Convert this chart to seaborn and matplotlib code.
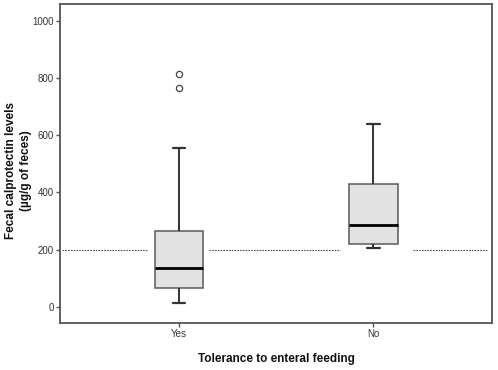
import matplotlib
matplotlib.use("Agg")
import matplotlib.pyplot as plt
import seaborn as sns
import pandas as pd

# ---- data ----
categories = ["Yes", "No"]
whisker_low = [13, 207]
q1 = [65, 220]
median = [135, 285]
q3 = [265, 428]
whisker_high = [556, 638]
outlier_group = ["Yes", "Yes"]
outlier_values = [764, 812]
reference_level = 200
y_ticks = [0, 200, 400, 600, 800, 1000]

sns.set_theme(style="white")
plt.rcParams['font.family'] = ['Liberation Sans', 'DejaVu Sans']

rows = []
for cat, a, b, c, d, e in zip(categories, whisker_low, q1, median, q3, whisker_high):
    for v in (a, b, c, d, e):
        rows.append({"group": cat, "value": v})
df = pd.DataFrame(rows)
out_df = pd.DataFrame({"group": outlier_group, "value": outlier_values})

fig = plt.figure(figsize=(4.98, 3.70), dpi=100)
ax = fig.add_axes([60 / 498, 1 - 323 / 370, 432 / 498, 319 / 370])

# reference line (segments interrupted around the boxes)
for x0, x1 in [(-0.602, -0.161), (0.154, 0.829), (1.206, 1.587)]:
    ax.hlines(reference_level, x0, x1, colors="#555555", linestyles=(0, (1.5, 1.0)),
              linewidth=0.8, zorder=1)

sns.boxplot(data=df, x="group", y="value", order=categories, whis=(0, 100),
            width=0.25, color="#e2e2e2", saturation=1, linecolor="#5a5a5a",
            linewidth=1.1, fliersize=0, capwidths=0.065,
            medianprops=dict(color="black", linewidth=2),
            whiskerprops=dict(color="#333333", linewidth=1.4),
            capprops=dict(color="#333333", linewidth=1.6),
            ax=ax, zorder=2)

sns.stripplot(data=out_df, x="group", y="value", order=categories, jitter=False,
              marker="o", size=4.5, facecolor="white", edgecolor="#444444",
              linewidth=0.9, color="white", ax=ax, zorder=3)

ax.set_xlim(-0.612, 1.611)
ax.set_ylim(-56, 1058)
ax.set_yticks(y_ticks)
ax.set_yticklabels([str(t) for t in y_ticks])

for s in ax.spines.values():
    s.set_visible(True)
    s.set_color("#555555")
    s.set_linewidth(1.3)

ax.tick_params(axis="both", which="major", direction="out", length=3, width=1,
               color="#555555", labelsize=7, labelcolor="#333333", pad=1.5,
               left=True, bottom=True)

ax.set_ylabel("Fecal calprotectin levels\n(\u00b5g/g of feces)", fontsize=8.5,
              fontweight="bold", color="#111111", multialignment="center",
              linespacing=1.35)
ax.yaxis.set_label_coords(-0.064, 0.478)
ax.set_xlabel("Tolerance to enteral feeding", fontsize=8.5, fontweight="bold",
              color="#111111", labelpad=10)

fig.savefig("out.png", dpi=100)
